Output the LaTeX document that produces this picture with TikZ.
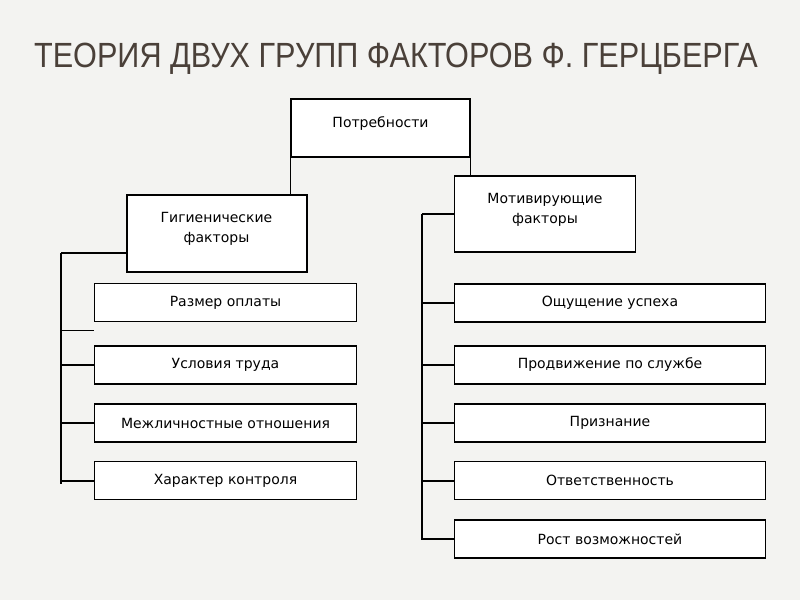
\documentclass[tikz,border=0pt]{standalone}
\usepackage{fontspec}
\setmainfont{DejaVu Sans}
\newfontfamily\titlefont{Liberation Sans}
\usetikzlibrary{positioning}
\definecolor{bgcol}{HTML}{F3F3F1}
\definecolor{titlecol}{HTML}{4A4039}

\begin{document}
\begin{tikzpicture}[
  x=1pt, y=-1pt,
  font=\fontsize{14}{20}\selectfont,
  box/.style={draw, line width=1.2pt, fill=white, align=center, inner sep=0pt},
  topbox/.style={box, minimum width=179, minimum height=58, text depth=12pt},
  grpbox/.style={box, minimum width=180, minimum height=77, text depth=12pt},
  item/.style={box, minimum width=262, minimum height=38},
  itemr/.style={item, minimum width=311},
  link/.style={line width=1.2pt},
  blink/.style={line width=2pt}
]
\fill[bgcol] (0,0) rectangle (800,600);
\useasboundingbox (0,0) rectangle (800,600);

\node[text=titlecol, font=\titlefont\fontsize{35}{40}\selectfont, xscale=0.875, transform shape, anchor=base west] (title) at (31,67) {ТЕОРИЯ ДВУХ ГРУПП ФАКТОРОВ Ф. ГЕРЦБЕРГА};

% upper level
\node[topbox] (need) at (380.5,128) {Потребности};
\node[grpbox, line width=2pt] (hyg) at (216.5,233.5) {Гигиенические\\факторы};
\node[grpbox, minimum width=181, minimum height=76] (mot) at (545,214) {Мотивирующие\\факторы};
\draw[link] (need.south west) -- (hyg.north -| need.south west);
\draw[link] (need.south east) -- (mot.north -| need.south east);

% hygiene factors
\node[item] (h1) at (225.5,302.5) {Размер оплаты};
\node[item] (h2) at (225.5,365) {Условия труда};
\node[item] (h3) at (225.5,423) {Межличностные отношения};
\node[item] (h4) at (225.5,480.5) {Характер контроля};
\coordinate (hl) at (61,253);
\coordinate (hb) at (61,484);
\draw[blink] (hl) -- (hb);
\draw[link] (hl) -- (hyg.west |- hl);
\draw[link] (61,330.5) -- (h1.west |- 0,330.5);
\draw[link] (h2.west) -- (h2.west -| hl);
\draw[blink] (h3.west) -- (h3.west -| hl);
\draw[blink] (h4.west) -- (h4.west -| hl);

% motivating factors
\node[itemr] (m1) at (610,303) {Ощущение успеха};
\node[itemr] (m2) at (610,365) {Продвижение по службе};
\node[itemr] (m3) at (610,423) {Признание};
\node[itemr] (m4) at (610,480.5) {Ответственность};
\node[itemr] (m5) at (610,539) {Рост возможностей};
\coordinate (ml) at (422,214);
\coordinate (mb) at (422,540);
\draw[link] (ml) -- (mb);
\draw[blink] (mot.west) -- (ml);
\foreach \i in {1,3,4,5}{\draw[blink] (m\i.west) -- (m\i.west -| ml);}
\draw[link] (m2.west) -- (m2.west -| ml);

\end{tikzpicture}
\end{document}
